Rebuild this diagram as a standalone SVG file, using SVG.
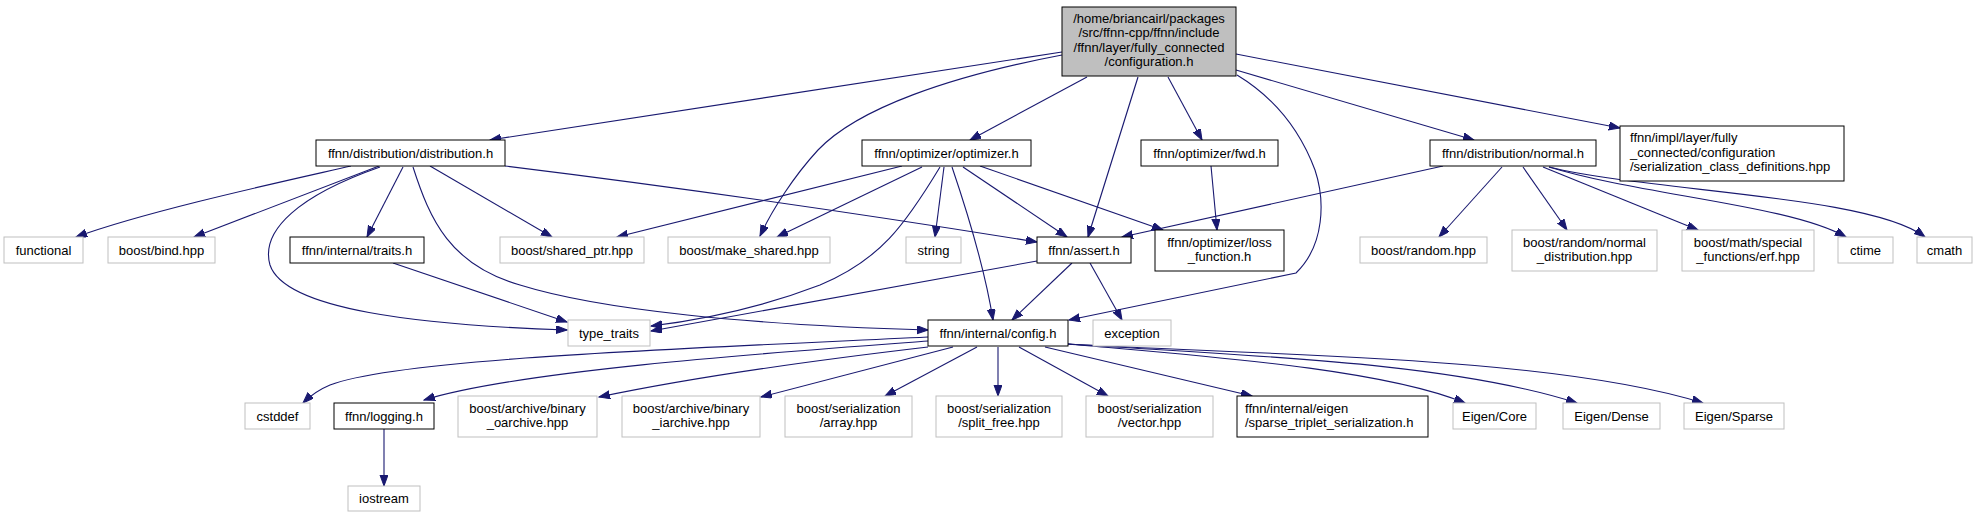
<svg xmlns="http://www.w3.org/2000/svg" width="1980" height="517" viewBox="0 0 1980 517">
<style>
.p{fill:#fff;stroke:#000;stroke-width:1}
.e{fill:#fff;stroke:#bfbfbf;stroke-width:1}
.r{fill:#bfbfbf;stroke:#000;stroke-width:1}
text{font-family:"Liberation Sans",Arial,sans-serif;font-size:13px;fill:#000}
.c{text-anchor:middle}
.l{text-anchor:start}
#edges path{fill:none;stroke:#191970;stroke-width:1.1;marker-end:url(#arr)}
</style>
<defs>
<marker id="arr" markerUnits="userSpaceOnUse" markerWidth="12" markerHeight="9" refX="11" refY="4" orient="auto">
<path d="M0,0 L11,4 L0,8 z" fill="#191970" stroke="#191970" stroke-width="1"/>
</marker>
</defs>
<rect width="1980" height="517" fill="#fff"/>
<g id="edges">
<path d="M1062,52 L490,140"/>
<path d="M1062,55 C951,76 858,108 818,150 C794,176 772,210 760,236"/>
<path d="M1087,77 L970,140"/>
<path d="M1138,77 L1088,237"/>
<path d="M1168,77 L1202,140"/>
<path d="M1237,75 C1275,98 1300,130 1315,170 C1325,200 1325,245 1296,273 L1069,320"/>
<path d="M1236,70 L1474,140"/>
<path d="M1236,54 L1620,128"/>
<path d="M351,166 C290,180 150,210 76,237"/>
<path d="M379,166 L194,237"/>
<path d="M380,167 C300,195 260,230 270,265 C285,310 420,325 567,330"/>
<path d="M403,167 L367,237"/>
<path d="M413,167 C430,220 450,265 520,285 C600,310 750,325 928,330"/>
<path d="M430,166 L552,237"/>
<path d="M505,166 C700,190 900,220 1037,242"/>
<path d="M902,166 L617,237"/>
<path d="M922,167 L777,237"/>
<path d="M940,167 C905,225 880,260 820,285 C760,308 700,320 651,326"/>
<path d="M944,167 L935,237"/>
<path d="M952,167 C970,220 985,270 993,320"/>
<path d="M963,167 L1067,237"/>
<path d="M980,166 L1163,230"/>
<path d="M1211,166 L1217,230"/>
<path d="M1443,166 L1122,237"/>
<path d="M1502,167 L1439,237"/>
<path d="M1523,167 L1567,230"/>
<path d="M1543,167 L1698,230"/>
<path d="M1549,167 C1640,195 1790,205 1846,237"/>
<path d="M1549,167 C1650,192 1870,195 1925,237"/>
<path d="M393,263 L567,322"/>
<path d="M1037,261 L651,331"/>
<path d="M1072,263 L1012,320"/>
<path d="M1090,263 L1122,320"/>
<path d="M928,337 C700,348 400,358 330,385 C318,390 310,396 303,403"/>
<path d="M928,341 C780,352 520,370 424,400"/>
<path d="M928,347 C800,362 680,380 599,397"/>
<path d="M953,347 L761,397"/>
<path d="M977,347 L885,396"/>
<path d="M998,347 L998,396"/>
<path d="M1019,347 L1108,396"/>
<path d="M1045,347 L1252,396"/>
<path d="M1068,344 C1200,356 1380,368 1465,403"/>
<path d="M1068,344 C1250,356 1450,362 1577,403"/>
<path d="M1068,344 C1250,355 1550,355 1703,403"/>
<path d="M384,429 L384,486"/>
</g>
<g id="n_top"><rect class="r" x="1062" y="7" width="174" height="69"/>
<text class="c" x="1149" y="22.5">/home/briancairl/packages</text>
<text class="c" x="1149" y="37">/src/ffnn-cpp/ffnn/include</text>
<text class="c" x="1149" y="51.5">/ffnn/layer/fully_connected</text>
<text class="c" x="1149" y="66">/configuration.h</text></g>
<g id="n_dist"><rect class="p" x="316" y="140" width="189" height="26"/><text class="c" x="410.5" y="157.5">ffnn/distribution/distribution.h</text></g>
<g id="n_opt"><rect class="p" x="862" y="140" width="169" height="26"/><text class="c" x="946.5" y="157.5">ffnn/optimizer/optimizer.h</text></g>
<g id="n_fwd"><rect class="p" x="1141" y="140" width="137" height="26"/><text class="c" x="1209.5" y="157.5">ffnn/optimizer/fwd.h</text></g>
<g id="n_normal"><rect class="p" x="1430" y="140" width="166" height="26"/><text class="c" x="1513" y="157.5">ffnn/distribution/normal.h</text></g>
<g id="n_impl"><rect class="p" x="1620" y="126" width="224" height="55"/>
<text class="l" x="1630" y="141.5">ffnn/impl/layer/fully</text>
<text class="l" x="1630" y="156.5">_connected/configuration</text>
<text class="l" x="1630" y="171">/serialization_class_definitions.hpp</text></g>
<g id="n_functional"><rect class="e" x="4" y="237" width="79" height="26"/><text class="c" x="43.5" y="254.5">functional</text></g>
<g id="n_bind"><rect class="e" x="108" y="237" width="107" height="26"/><text class="c" x="161.5" y="254.5">boost/bind.hpp</text></g>
<g id="n_traits"><rect class="p" x="290" y="237" width="134" height="26"/><text class="c" x="357" y="254.5">ffnn/internal/traits.h</text></g>
<g id="n_shared"><rect class="e" x="500" y="237" width="144" height="26"/><text class="c" x="572" y="254.5">boost/shared_ptr.hpp</text></g>
<g id="n_make"><rect class="e" x="668" y="237" width="162" height="26"/><text class="c" x="749" y="254.5">boost/make_shared.hpp</text></g>
<g id="n_string"><rect class="e" x="906" y="237" width="55" height="26"/><text class="c" x="933.5" y="254.5">string</text></g>
<g id="n_assert"><rect class="p" x="1037" y="237" width="94" height="26"/><text class="c" x="1084" y="254.5">ffnn/assert.h</text></g>
<g id="n_loss"><rect class="p" x="1155" y="230" width="129" height="41"/>
<text class="c" x="1219.5" y="247">ffnn/optimizer/loss</text>
<text class="c" x="1219.5" y="261">_function.h</text></g>
<g id="n_random"><rect class="e" x="1360" y="237" width="127" height="26"/><text class="c" x="1423.5" y="254.5">boost/random.hpp</text></g>
<g id="n_ndist"><rect class="e" x="1512" y="230" width="145" height="41"/>
<text class="c" x="1584.5" y="247">boost/random/normal</text>
<text class="c" x="1584.5" y="261">_distribution.hpp</text></g>
<g id="n_erf"><rect class="e" x="1682" y="230" width="132" height="41"/>
<text class="c" x="1748" y="247">boost/math/special</text>
<text class="c" x="1748" y="261">_functions/erf.hpp</text></g>
<g id="n_ctime"><rect class="e" x="1838" y="237" width="55" height="26"/><text class="c" x="1865.5" y="254.5">ctime</text></g>
<g id="n_cmath"><rect class="e" x="1917" y="237" width="55" height="26"/><text class="c" x="1944.5" y="254.5">cmath</text></g>
<g id="n_type"><rect class="e" x="568" y="320" width="82" height="26"/><text class="c" x="609" y="337.5">type_traits</text></g>
<g id="n_config"><rect class="p" x="928" y="320" width="140" height="26"/><text class="c" x="998" y="337.5">ffnn/internal/config.h</text></g>
<g id="n_exception"><rect class="e" x="1093" y="320" width="78" height="26"/><text class="c" x="1132" y="337.5">exception</text></g>
<g id="n_cstddef"><rect class="e" x="245" y="403" width="65" height="26"/><text class="c" x="277.5" y="420.5">cstddef</text></g>
<g id="n_logging"><rect class="p" x="334" y="403" width="100" height="26"/><text class="c" x="384" y="420.5">ffnn/logging.h</text></g>
<g id="n_oarch"><rect class="e" x="458" y="396" width="139" height="41"/>
<text class="c" x="527.5" y="413">boost/archive/binary</text>
<text class="c" x="527.5" y="427">_oarchive.hpp</text></g>
<g id="n_iarch"><rect class="e" x="622" y="396" width="138" height="41"/>
<text class="c" x="691" y="413">boost/archive/binary</text>
<text class="c" x="691" y="427">_iarchive.hpp</text></g>
<g id="n_array"><rect class="e" x="785" y="396" width="127" height="41"/>
<text class="c" x="848.5" y="413">boost/serialization</text>
<text class="c" x="848.5" y="427">/array.hpp</text></g>
<g id="n_split"><rect class="e" x="936" y="396" width="126" height="41"/>
<text class="c" x="999" y="413">boost/serialization</text>
<text class="c" x="999" y="427">/split_free.hpp</text></g>
<g id="n_vector"><rect class="e" x="1086" y="396" width="127" height="41"/>
<text class="c" x="1149.5" y="413">boost/serialization</text>
<text class="c" x="1149.5" y="427">/vector.hpp</text></g>
<g id="n_sparse"><rect class="p" x="1237" y="396" width="191" height="41"/>
<text class="l" x="1245" y="413">ffnn/internal/eigen</text>
<text class="l" x="1245" y="427">/sparse_triplet_serialization.h</text></g>
<g id="n_core"><rect class="e" x="1453" y="403" width="83" height="26"/><text class="c" x="1494.5" y="420.5">Eigen/Core</text></g>
<g id="n_dense"><rect class="e" x="1563" y="403" width="97" height="26"/><text class="c" x="1611.5" y="420.5">Eigen/Dense</text></g>
<g id="n_esparse"><rect class="e" x="1684" y="403" width="100" height="26"/><text class="c" x="1734" y="420.5">Eigen/Sparse</text></g>
<g id="n_iostream"><rect class="e" x="348" y="486" width="72" height="25"/><text class="c" x="384" y="503">iostream</text></g>
</svg>
